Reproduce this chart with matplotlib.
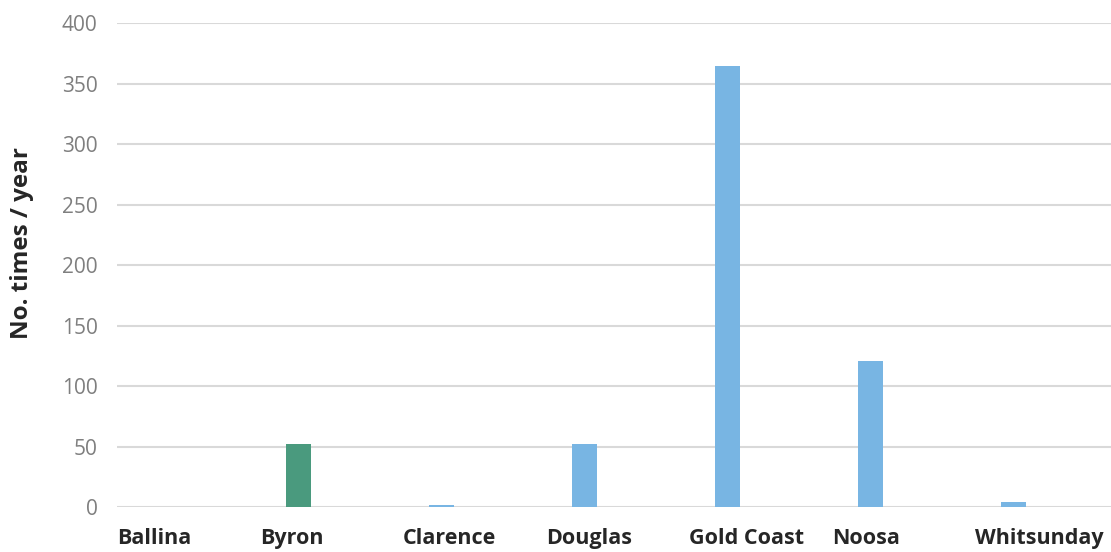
import matplotlib
matplotlib.use("Agg")
import matplotlib.pyplot as plt
import numpy as np

# data
regions = ["Ballina", "Byron", "Clarence", "Douglas", "Gold Coast", "Noosa", "Whitsunday"]
times_per_year = [0, 52, 2, 52, 365, 121, 4]
bar_colors = ["#78b5e3", "#4a9a7e", "#78b5e3", "#78b5e3", "#78b5e3", "#78b5e3", "#78b5e3"]
yticks = [0, 50, 100, 150, 200, 250, 300, 350, 400]

plt.rcParams['font.family'] = ['Open Sans', 'DejaVu Sans']

fig = plt.figure(figsize=(11.11, 5.52), dpi=100)
ax = fig.add_axes([0.1053, 0.081, 0.8947, 0.8768])

x = np.arange(len(regions))
ax.bar(x, times_per_year, width=0.175, color=bar_colors, zorder=3)

ax.set_xlim(-0.269, 6.68)
ax.set_ylim(0, 400)
ax.set_yticks(yticks)
ax.yaxis.grid(True, color="#d9d9d9", linewidth=1.5, zorder=0)
for s in ax.spines.values():
    s.set_visible(False)
ax.tick_params(axis="y", length=0, pad=14, labelsize=15, labelcolor="#7f7f7f")

# category labels are left-aligned in each slot
ax.set_xticks(x - 0.27)
ax.set_xticklabels(regions, ha="left", fontsize=15.5, fontweight="bold", color="#262626")
ax.tick_params(axis="x", length=0, pad=15)

fig.text(0.02, 0.56, "No. times / year", rotation=90, ha="center", va="center",
         fontsize=17.5, fontweight="bold", color="#262626")

fig.savefig("out.png", dpi=100)
